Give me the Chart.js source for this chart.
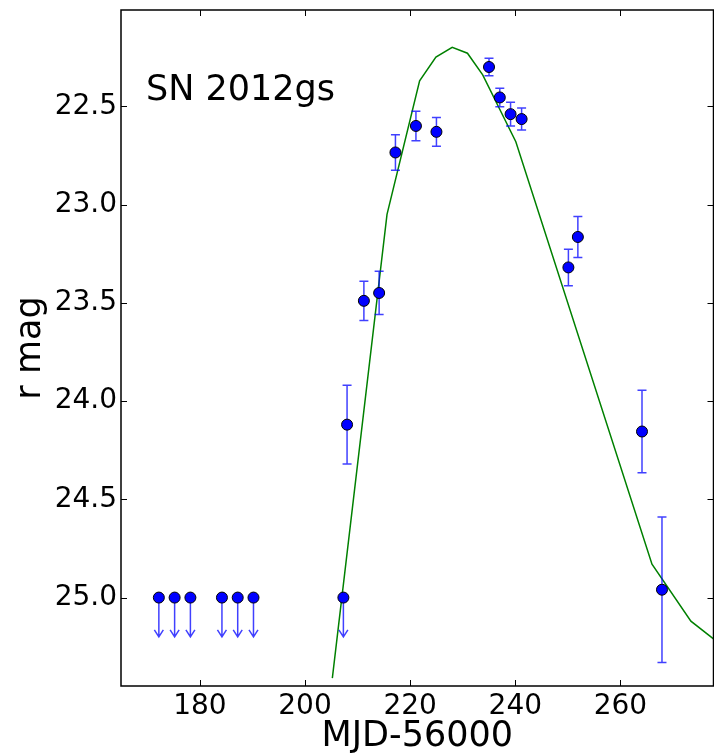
<!DOCTYPE html>
<html>
<head>
<meta charset="utf-8">
<script src="https://cdn.jsdelivr.net/npm/chart.js@4.4.0/dist/chart.umd.min.js"></script>
<style>
  html, body { margin: 0; padding: 0; background: #fff; overflow: hidden; }
  canvas { display: block; }
</style>
</head>
<body>
<canvas id="lc" width="720" height="756"></canvas>
<script>
// r-band light curve of SN 2012gs, days given as MJD-56000
const detMjd = [208.0, 211.2, 214.1, 217.2, 221.1, 225.0, 235.0, 237.05, 239.1, 241.2, 250.1, 251.9, 264.1, 267.9];
const detMag = [24.12, 23.49, 23.45, 22.735, 22.60, 22.63, 22.30, 22.455, 22.54, 22.565, 23.32, 23.165, 24.155, 24.96];
const detErr = [0.20, 0.10, 0.11, 0.09, 0.075, 0.073, 0.045, 0.047, 0.06, 0.056, 0.093, 0.104, 0.21, 0.37];

// non-detections (upper limits)
const limMjd = [172.2, 175.2, 178.2, 184.2, 187.2, 190.2, 207.3];
const limMag = [25.0, 25.0, 25.0, 25.0, 25.0, 25.0, 25.0];
const arrowLen = 0.2;

// template fit
const modelMjd = [205.2, 215.6, 221.8, 224.9, 228.0, 230.9, 233.8, 240.1, 266.0, 273.4, 277.7];
const modelMag = [25.41, 23.05, 22.37, 22.25, 22.20, 22.23, 22.34, 22.68, 24.83, 25.12, 25.21];

const xTicks = [180, 200, 220, 240, 260];
const yTicks = [22.5, 23.0, 23.5, 24.0, 24.5, 25.0];

const FONT = '"DejaVu Sans", sans-serif';
const errColor = 'rgba(0, 0, 255, 0.75)';

const toXY = (xs, ys) => xs.map((v, i) => ({ x: v, y: ys[i] }));

// error bars under the detections, arrows under the limits
const errorBars = {
  id: 'errorBars',
  beforeDatasetDraw(chart, args) {
    const { ctx, scales: { x, y } } = chart;
    ctx.save();
    ctx.strokeStyle = errColor;
    ctx.lineWidth = 1.5;
    if (args.index === 1) {
      detMjd.forEach((d, i) => {
        const px = x.getPixelForValue(d);
        const top = y.getPixelForValue(detMag[i] - detErr[i]);
        const bot = y.getPixelForValue(detMag[i] + detErr[i]);
        ctx.beginPath();
        ctx.moveTo(px, top); ctx.lineTo(px, bot);
        ctx.moveTo(px - 4.5, top); ctx.lineTo(px + 4.5, top);
        ctx.moveTo(px - 4.5, bot); ctx.lineTo(px + 4.5, bot);
        ctx.stroke();
      });
    } else if (args.index === 2) {
      limMjd.forEach((d, i) => {
        const px = x.getPixelForValue(d);
        const y0 = y.getPixelForValue(limMag[i]);
        const y1 = y.getPixelForValue(limMag[i] + arrowLen);
        ctx.beginPath();
        ctx.moveTo(px, y0); ctx.lineTo(px, y1);
        ctx.moveTo(px - 4.5, y1 - 7); ctx.lineTo(px, y1); ctx.lineTo(px + 4.5, y1 - 7);
        ctx.stroke();
      });
    }
    ctx.restore();
  }
};

// frame with inward ticks, axis titles and the object name
const frame = {
  id: 'frame',
  afterDraw(chart) {
    const { ctx, chartArea: a, scales: { x, y } } = chart;
    ctx.save();
    ctx.strokeStyle = '#000';
    ctx.lineWidth = 1.5;
    ctx.strokeRect(a.left, a.top, a.right - a.left, a.bottom - a.top);
    ctx.lineWidth = 1;
    ctx.beginPath();
    xTicks.forEach(v => {
      const px = Math.round(x.getPixelForValue(v)) + 0.5;
      ctx.moveTo(px, a.bottom); ctx.lineTo(px, a.bottom - 6);
      ctx.moveTo(px, a.top); ctx.lineTo(px, a.top + 6);
    });
    yTicks.forEach(v => {
      const py = Math.round(y.getPixelForValue(v)) + 0.5;
      ctx.moveTo(a.left, py); ctx.lineTo(a.left + 6, py);
      ctx.moveTo(a.right, py); ctx.lineTo(a.right - 6, py);
    });
    ctx.stroke();

    ctx.fillStyle = '#000';
    ctx.font = '35px ' + FONT;
    ctx.textBaseline = 'alphabetic';
    ctx.textAlign = 'left';
    ctx.fillText('SN 2012gs', a.left + 25, a.top + 90);

    ctx.textAlign = 'center';
    ctx.fillText('MJD-56000', (a.left + a.right) / 2, 746);

    ctx.translate(40, (a.top + a.bottom) / 2);
    ctx.rotate(-Math.PI / 2);
    ctx.fillText('r mag', 0, 0);
    ctx.restore();
  }
};

new Chart(document.getElementById('lc'), {
  type: 'scatter',
  data: {
    datasets: [
      {
        type: 'line',
        data: toXY(modelMjd, modelMag),
        borderColor: '#008000',
        borderWidth: 1.5,
        pointRadius: 0,
        fill: false,
        tension: 0,
        order: 3
      },
      {
        data: toXY(detMjd, detMag),
        backgroundColor: '#0000ff',
        borderColor: '#000000',
        borderWidth: 1,
        pointRadius: 5.5,
        order: 1
      },
      {
        data: toXY(limMjd, limMag),
        backgroundColor: '#0000ff',
        borderColor: '#000000',
        borderWidth: 1,
        pointRadius: 5.5,
        order: 2
      }
    ]
  },
  options: {
    responsive: false,
    animation: false,
    layout: { padding: { left: 0, top: 10, right: 4, bottom: 0 } },
    plugins: { legend: { display: false }, tooltip: { enabled: false } },
    scales: {
      x: {
        type: 'linear',
        min: 165,
        max: 277.7,
        grid: { display: false, drawTicks: false },
        border: { display: false },
        ticks: { color: '#000', font: { family: FONT, size: 28 }, padding: 4, autoSkip: false, maxRotation: 0 },
        afterBuildTicks: s => { s.ticks = xTicks.map(v => ({ value: v })); },
        afterFit: s => { s.height = 70; s.paddingLeft = 0; s.paddingRight = 0; }
      },
      y: {
        type: 'linear',
        reverse: true,
        min: 22.01,
        max: 25.45,
        grid: { display: false, drawTicks: false },
        border: { display: false },
        ticks: {
          color: '#000',
          font: { family: FONT, size: 28 },
          padding: 4,
          autoSkip: false,
          callback: v => v.toFixed(1)
        },
        afterBuildTicks: s => { s.ticks = yTicks.map(v => ({ value: v })); },
        afterFit: s => { s.width = 121; s.paddingTop = 0; s.paddingBottom = 0; }
      }
    }
  },
  plugins: [errorBars, frame]
});
</script>
</body>
</html>
